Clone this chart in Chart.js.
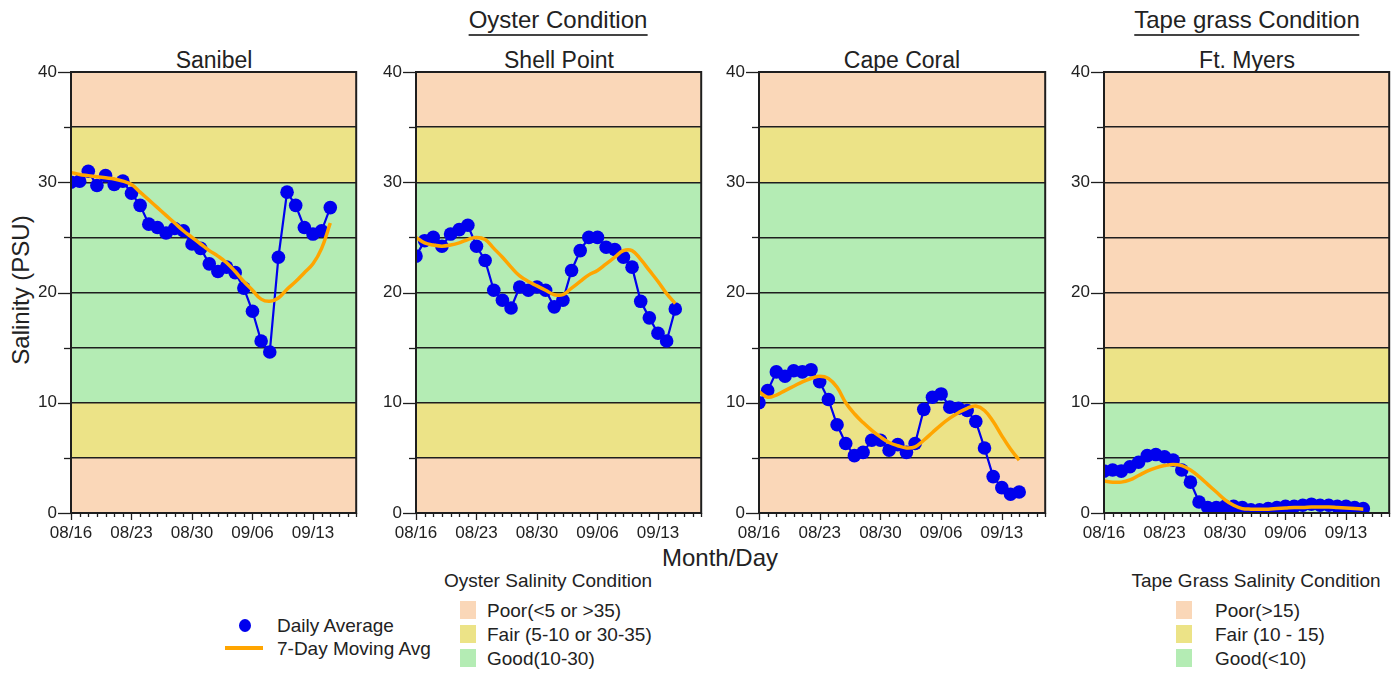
<!DOCTYPE html>
<html>
<head>
<meta charset="utf-8">
<script src="https://cdn.jsdelivr.net/npm/chart.js@4.4.0/dist/chart.umd.min.js"></script>
<style>
  body { margin: 0; background: #fff; font-family: "Liberation Sans", Arial, sans-serif; color: #222; }
  #wrap { position: relative; width: 1399px; height: 675px; overflow: hidden; }
  canvas { position: absolute; }
  .txt { position: absolute; white-space: nowrap; line-height: 1; }
  .ttl { font-size: 23px; transform: translateX(-50%); }
  .grp { font-size: 24px; transform: translateX(-50%); border-bottom: 2px solid #444; padding-bottom: 2px; }
  .leg { font-size: 19px; }
  .sw { position: absolute; width: 16px; height: 18px; }
</style>
</head>
<body>
<div id="wrap">
  <div class="txt grp" style="left:558px; top:8px;">Oyster Condition</div>
  <div class="txt grp" style="left:1247px; top:8px;">Tape grass Condition</div>

  <div class="txt ttl" style="left:214px; top:49px;">Sanibel</div>
  <div class="txt ttl" style="left:559px; top:49px;">Shell Point</div>
  <div class="txt ttl" style="left:902px; top:49px;">Cape Coral</div>
  <div class="txt ttl" style="left:1247px; top:49px;">Ft. Myers</div>

  <div class="txt" style="left:21px; top:290px; font-size:24px; transform: translate(-50%,-50%) rotate(-90deg);">Salinity (PSU)</div>
  <div class="txt" style="left:720px; top:546px; font-size:24px; transform: translateX(-50%);">Month/Day</div>

  <canvas id="c0" width="337" height="500" style="left:26px; top:60px;"></canvas>
  <canvas id="c1" width="337" height="500" style="left:371px; top:60px;"></canvas>
  <canvas id="c2" width="338" height="500" style="left:714px; top:60px;"></canvas>
  <canvas id="c3" width="337" height="500" style="left:1059px; top:60px;"></canvas>

  <!-- legend: series -->
  <div style="position:absolute; left:239px; top:619px; width:12px; height:13px; border-radius:50%; background:#0000ee;"></div>
  <div style="position:absolute; left:225px; top:646px; width:38px; height:4px; background:#ffa500;"></div>
  <div class="txt leg" style="left:277px; top:616px;">Daily Average</div>
  <div class="txt leg" style="left:277px; top:639px;">7-Day Moving Avg</div>

  <!-- legend: oyster -->
  <div class="txt leg" style="left:548px; top:571px; transform: translateX(-50%);">Oyster Salinity Condition</div>
  <div class="sw" style="left:460px; top:601px; background:#fad7b8;"></div>
  <div class="sw" style="left:460px; top:625px; background:#ece387;"></div>
  <div class="sw" style="left:460px; top:649px; background:#b4ecb4;"></div>
  <div class="txt leg" style="left:487px; top:601px;">Poor(&lt;5 or &gt;35)</div>
  <div class="txt leg" style="left:487px; top:625px;">Fair (5-10 or 30-35)</div>
  <div class="txt leg" style="left:487px; top:649px;">Good(10-30)</div>

  <!-- legend: tape grass -->
  <div class="txt leg" style="left:1256px; top:571px; transform: translateX(-50%);">Tape Grass Salinity Condition</div>
  <div class="sw" style="left:1176px; top:601px; background:#fad7b8;"></div>
  <div class="sw" style="left:1176px; top:625px; background:#ece387;"></div>
  <div class="sw" style="left:1176px; top:649px; background:#b4ecb4;"></div>
  <div class="txt leg" style="left:1215px; top:601px;">Poor(&gt;15)</div>
  <div class="txt leg" style="left:1215px; top:625px;">Fair (10 - 15)</div>
  <div class="txt leg" style="left:1215px; top:649px;">Good(&lt;10)</div>
</div>

<script>
// days since 08/16
const days = [0,1,2,3,4,5,6,7,8,9,10,11,12,13,14,15,16,17,18,19,20,21,22,23,24,25,26,27,28,29,30];
const tickDays = [0, 7, 14, 21, 28];
const tickLabels = ["08/16", "08/23", "08/30", "09/06", "09/13"];
const yLabelled = [0, 10, 20, 30, 40];

const sanibelDaily = [30.0,30.1,31.0,29.7,30.6,29.8,30.1,29.0,27.9,26.2,25.9,25.4,25.8,25.6,24.4,24.0,22.6,21.9,22.3,21.8,20.4,18.3,15.6,14.6,23.2,29.1,27.9,25.9,25.3,25.6,27.7];
const sanibelAvg   = [30.9,30.7,30.6,30.5,30.4,30.3,30.1,29.8,29.1,28.4,27.7,27.0,26.3,25.6,25.0,24.4,23.8,23.3,22.7,21.9,21.0,20.2,19.4,19.2,19.5,20.3,21.0,21.8,22.6,24.0,26.3];

const shellDaily = [23.3,24.7,25.0,24.2,25.3,25.7,26.1,24.2,22.9,20.2,19.3,18.6,20.5,20.2,20.5,20.2,18.7,19.3,22.0,23.8,25.0,25.0,24.1,23.9,23.2,22.3,19.2,17.7,16.3,15.6,18.5];
const shellAvg   = [25.0,24.5,24.3,24.2,24.3,24.5,24.8,25.0,24.8,24.0,23.2,22.3,21.5,21.0,20.6,20.2,19.8,19.8,20.4,21.0,21.6,22.0,22.6,23.2,23.8,23.8,23.0,22.0,21.0,19.9,19.0];

const capeDaily = [10.0,11.1,12.8,12.4,12.9,12.8,13.0,11.9,10.3,8.0,6.3,5.2,5.5,6.6,6.6,5.7,6.2,5.5,6.3,9.4,10.5,10.8,9.6,9.5,9.3,8.3,5.9,3.3,2.3,1.7,1.9];
const capeAvg   = [11.0,10.5,10.7,11.1,11.5,11.9,12.2,12.4,12.2,11.4,10.0,9.0,8.2,7.5,6.9,6.4,6.1,5.9,6.0,6.6,7.3,8.0,8.6,9.1,9.5,9.7,9.3,8.3,7.0,5.8,4.8];

const myersDaily = [3.8,3.9,3.8,4.2,4.6,5.2,5.3,5.1,4.8,3.9,2.8,1.0,0.5,0.5,0.6,0.6,0.5,0.3,0.3,0.4,0.5,0.6,0.6,0.7,0.8,0.7,0.7,0.6,0.6,0.5,0.4];
const myersAvg   = [2.9,2.8,2.8,3.0,3.4,3.8,4.1,4.3,4.4,4.3,3.9,3.3,2.6,1.9,1.2,0.7,0.4,0.35,0.35,0.35,0.4,0.45,0.5,0.5,0.55,0.55,0.55,0.5,0.45,0.4,0.35];

// condition bands: [from, to, colour]
const oysterBands = [[0,5,"#fad7b8"],[5,10,"#ece387"],[10,30,"#b4ecb4"],[30,35,"#ece387"],[35,40,"#fad7b8"]];
const tapeBands   = [[0,10,"#b4ecb4"],[10,15,"#ece387"],[15,40,"#fad7b8"]];

const panels = [
  { id: "c0", daily: sanibelDaily, avg: sanibelAvg, bands: oysterBands },
  { id: "c1", daily: shellDaily,   avg: shellAvg,   bands: oysterBands },
  { id: "c2", daily: capeDaily,    avg: capeAvg,    bands: oysterBands },
  { id: "c3", daily: myersDaily,   avg: myersAvg,   bands: tapeBands }
];

const ink = "#1e1e1e";

const bandPlugin = {
  id: "bands",
  beforeDraw(chart, args, opts) {
    const { ctx, chartArea: a, scales: { y } } = chart;
    ctx.save();
    opts.bands.forEach(([lo, hi, col]) => {
      const top = y.getPixelForValue(hi), bot = y.getPixelForValue(lo);
      ctx.fillStyle = col;
      ctx.fillRect(a.left, top, a.right - a.left, bot - top);
    });
    ctx.restore();
  },
  afterDraw(chart) {
    const { ctx, chartArea: a, scales: { x, y } } = chart;
    ctx.save();
    ctx.strokeStyle = ink;
    ctx.lineWidth = 2;
    ctx.strokeRect(a.left, a.top, a.right - a.left, a.bottom - a.top);
    ctx.lineWidth = 1.3;
    // day ticks below the x axis, longer at the week labels
    for (let d = 0; d <= 33; d++) {
      const px = Math.round(x.getPixelForValue(d)) + 0.5;
      const len = tickDays.includes(d) ? 7 : 4;
      ctx.beginPath();
      ctx.moveTo(px, a.bottom);
      ctx.lineTo(px, a.bottom + len);
      ctx.stroke();
    }
    // y ticks left of the axis, longer at the labelled values
    for (let v = 0; v <= 40; v += 5) {
      const py = Math.round(y.getPixelForValue(v)) + 0.5;
      const len = yLabelled.includes(v) ? 13 : 7;
      ctx.beginPath();
      ctx.moveTo(a.left - len, py);
      ctx.lineTo(a.left, py);
      ctx.stroke();
    }
    ctx.restore();
  }
};

const tickFont = { family: "'Liberation Sans', Arial, sans-serif", size: 17 };

panels.forEach(p => {
  new Chart(document.getElementById(p.id), {
    type: "line",
    data: {
      datasets: [
        {
          label: "7-Day Moving Avg",
          data: days.map((d, i) => ({ x: d, y: p.avg[i] })),
          borderColor: "#ffa500",
          borderWidth: 3.5,
          pointRadius: 0,
          tension: 0.4,
          order: 0
        },
        {
          label: "Daily Average",
          data: days.map((d, i) => ({ x: d, y: p.daily[i] })),
          borderColor: "#0000ee",
          backgroundColor: "#0000ee",
          borderWidth: 2.2,
          pointRadius: 6.8,
          pointBorderWidth: 0,
          tension: 0,
          order: 1
        }
      ]
    },
    options: {
      responsive: false,
      animation: false,
      layout: { padding: { top: 12, right: 6, left: 0, bottom: 0 } },
      plugins: {
        legend: { display: false },
        tooltip: { enabled: false },
        bands: { bands: p.bands }
      },
      scales: {
        x: {
          type: "linear",
          min: 0,
          max: 33,
          afterFit: s => { s.height = 47; },
          afterBuildTicks: s => { s.ticks = tickDays.map(v => ({ value: v })); },
          ticks: {
            autoSkip: false,
            maxRotation: 0,
            padding: 3,
            color: "#222",
            font: tickFont,
            callback: v => tickLabels[tickDays.indexOf(v)] ?? ""
          },
          grid: { display: true, drawOnChartArea: false, drawTicks: true, tickLength: 7, tickColor: "transparent" },
          border: { display: false }
        },
        y: {
          min: 0,
          max: 40,
          afterFit: s => { s.width = 45; },
          ticks: {
            stepSize: 5,
            padding: 1,
            color: "#222",
            font: tickFont,
            callback: v => (yLabelled.includes(v) ? v : "")
          },
          grid: { color: ink, lineWidth: 1.5, tickLength: 13, tickColor: "transparent" },
          border: { display: false }
        }
      }
    },
    plugins: [bandPlugin]
  });
});
</script>
</body>
</html>
